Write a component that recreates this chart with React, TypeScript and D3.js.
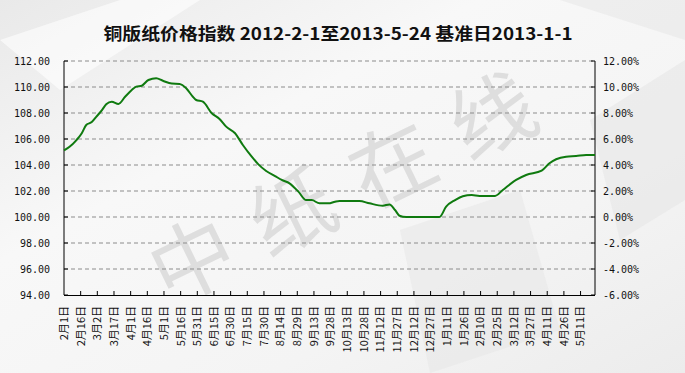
import React from "react";
import * as d3 from "d3";

const W = 685;
const H = 373;

// day offset from 2012-02-01, index value (base 2013-01-01 = 100)
const dayOffsets = [0, 5, 11, 16, 20, 25, 29, 34, 38, 43, 49, 55, 61, 65, 70, 76, 83, 89, 97, 104, 110, 116, 119, 125, 133, 140, 146, 154, 161, 169, 175, 182, 190, 196, 203, 211, 218, 223, 230, 238, 244, 248, 266, 275, 287, 293, 298, 302, 308, 338, 344, 352, 359, 367, 374, 388, 395, 407, 416, 430, 437, 443, 452, 461, 470, 478];
const indexValues = [105.12, 105.4, 105.9, 106.44, 107.08, 107.3, 107.7, 108.2, 108.67, 108.87, 108.7, 109.25, 109.77, 110.03, 110.1, 110.54, 110.67, 110.48, 110.26, 110.23, 109.9, 109.25, 109.0, 108.87, 107.98, 107.54, 106.95, 106.44, 105.54, 104.64, 104.05, 103.54, 103.15, 102.85, 102.59, 101.95, 101.3, 101.3, 101.05, 101.05, 101.18, 101.23, 101.23, 101.05, 100.87, 100.97, 100.54, 100.1, 100.0, 100.0, 100.8, 101.3, 101.6, 101.69, 101.62, 101.62, 102.08, 102.85, 103.23, 103.56, 104.13, 104.44, 104.64, 104.69, 104.77, 104.77];

const xLabels = ["2月1日", "2月16日", "3月2日", "3月17日", "4月1日", "4月16日", "5月1日", "5月16日", "5月31日", "6月15日", "6月30日", "7月15日", "7月30日", "8月14日", "8月29日", "9月13日", "9月28日", "10月13日", "10月28日", "11月12日", "11月27日", "12月12日", "12月27日", "1月11日", "1月26日", "2月10日", "2月25日", "3月12日", "3月27日", "4月11日", "4月26日", "5月11日"];
const labelStepDays = 15;
const totalDays = 478;

const leftTicks = [94, 96, 98, 100, 102, 104, 106, 108, 110, 112];
const rightTicks = [-6, -4, -2, 0, 2, 4, 6, 8, 10, 12];

const title = "铜版纸价格指数 2012-2-1至2013-5-24 基准日2013-1-1";
const watermark = ["中", "纸", "在", "线"];

export default function App() {
  const x = d3.scaleLinear().domain([0, totalDays]).range([64, 595]);
  const y = d3.scaleLinear().domain([94, 112]).range([295, 61]);
  const yR = d3.scaleLinear().domain([-6, 12]).range([295, 61]);

  const pts = dayOffsets.map((d, i) => [d, indexValues[i]] as [number, number]);
  const line = d3
    .line<[number, number]>()
    .x((d) => x(d[0]))
    .y((d) => y(d[1]))
    .curve(d3.curveMonotoneX);

  const numFont = "'DejaVu Sans Mono', monospace";
  const cjkFont = "'Noto Sans CJK SC', sans-serif";

  return (
    <svg
      width={W}
      height={H}
      style={{ position: "absolute", left: 0, top: 0 }}
      xmlns="http://www.w3.org/2000/svg"
    >
      <defs>
        <linearGradient id="bg" x1="0" y1="0" x2="1" y2="1">
          <stop offset="0" stopColor="#e9e9e9" />
          <stop offset="0.35" stopColor="#f8f8f8" />
          <stop offset="0.7" stopColor="#f4f4f4" />
          <stop offset="1" stopColor="#ececec" />
        </linearGradient>
      </defs>
      <rect x={0} y={0} width={W} height={H} fill="url(#bg)" />
      {/* faint background shapes */}
      <polygon points="0,40 120,0 200,0 60,90" fill="#ffffff" opacity={0.6} />
      <polygon points="400,230 520,190 560,330 430,373" fill="#e6e6e6" opacity={0.5} />
      <polygon points="590,120 685,60 685,200 620,240" fill="#e4e4e4" opacity={0.5} />
      <polygon points="560,0 685,0 685,40" fill="#e8e8e8" opacity={0.6} />

      {/* watermark */}
      {watermark.map((c, i) => (
        <text
          key={c}
          x={190 + i * 100}
          y={255 - i * 48}
          fontFamily={cjkFont}
          fontSize={84}
          fill="#d6d6d6"
          opacity={0.75}
          textAnchor="middle"
          dominantBaseline="central"
          transform={`rotate(-26 ${190 + i * 100} ${255 - i * 48})`}
        >
          {c}
        </text>
      ))}

      {/* title */}
      <text
        x={338}
        y={40}
        textAnchor="middle"
        fontFamily={cjkFont}
        fontWeight="bold"
        fontSize={17}
        fill="#111"
        textLength={469}
        lengthAdjust="spacingAndGlyphs"
      >
        {title}
      </text>

      {/* grid */}
      {leftTicks
        .filter((t) => t > 94)
        .map((t) => (
          <line
            key={"g" + t}
            x1={64}
            x2={595}
            y1={y(t)}
            y2={y(t)}
            stroke="#8c8c8c"
            strokeDasharray="4,3"
            strokeWidth={1}
          />
        ))}

      {/* axes */}
      <line x1={64} x2={64} y1={61} y2={295} stroke="#000" />
      <line x1={595} x2={595} y1={61} y2={295} stroke="#000" />
      <line x1={64} x2={595} y1={295.5} y2={295.5} stroke="#000" />

      {leftTicks.map((t) => (
        <g key={"l" + t}>
          <line x1={64} x2={68} y1={y(t)} y2={y(t)} stroke="#000" />
          <text
            x={50}
            y={y(t)}
            dy="0.35em"
            textAnchor="end"
            fontFamily={numFont}
            fontSize={10}
            fill="#111"
          >
            {t.toFixed(2)}
          </text>
        </g>
      ))}
      {rightTicks.map((t) => (
        <g key={"r" + t}>
          <line x1={591} x2={595} y1={yR(t)} y2={yR(t)} stroke="#000" />
          <text
            x={603}
            y={yR(t)}
            dy="0.35em"
            textAnchor="start"
            fontFamily={numFont}
            fontSize={10}
            fill="#111"
          >
            {t.toFixed(2) + "%"}
          </text>
        </g>
      ))}

      {xLabels.map((lab, i) => {
        const xp = x(i * labelStepDays);
        return (
          <g key={"x" + i}>
            {i > 0 && <line x1={xp} x2={xp} y1={291} y2={295} stroke="#000" />}
            <text
              x={0}
              y={0}
              dy="0.35em"
              textAnchor="end"
              fontFamily={cjkFont}
              fontSize={11}
              fill="#111"
              transform={`translate(${xp},306) rotate(-90)`}
            >
              {lab}
            </text>
          </g>
        );
      })}

      {/* data line */}
      <path d={line(pts) || ""} fill="none" stroke="#0f7a0f" strokeWidth={2} />
    </svg>
  );
}
